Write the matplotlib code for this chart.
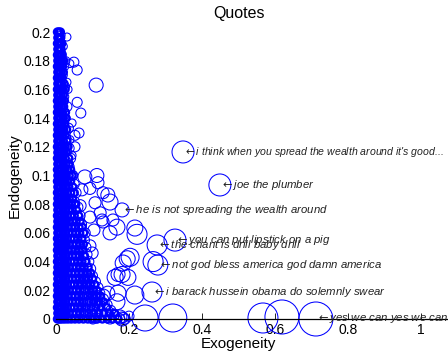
import matplotlib
matplotlib.use("Agg")
import matplotlib.pyplot as plt

plt.rcParams['font.family'] = ['Liberation Sans', 'DejaVu Sans']
plt.rcParams['mathtext.fontset'] = 'dejavusans'

# ---- data -------------------------------------------------------------
# dense cloud of quotes close to x = 0 (rows of y with their x values)
core_rows_y = [0.200, 0.196, 0.192, 0.188, 0.184, 0.180, 0.176, 0.172, 0.168, 0.164,
               0.160, 0.156, 0.152, 0.148, 0.144, 0.140, 0.136, 0.132, 0.128, 0.124,
               0.120, 0.116, 0.112, 0.108, 0.104, 0.100, 0.096, 0.092, 0.088, 0.084,
               0.080, 0.076, 0.072, 0.068, 0.064, 0.060, 0.056, 0.052, 0.048, 0.044,
               0.040, 0.036, 0.032, 0.028, 0.024, 0.020, 0.016, 0.012, 0.008, 0.004,
               0.000]
core_rows_x = [
    [0.004, 0.008, 0.012],
    [0.005, 0.009, 0.013],
    [0.004, 0.008, 0.012, 0.016],
    [0.005, 0.009, 0.014],
    [0.004, 0.008, 0.012, 0.017],
    [0.005, 0.009, 0.015, 0.021],
    [0.004, 0.008, 0.012, 0.018],
    [0.005, 0.009, 0.014, 0.020],
    [0.004, 0.008, 0.012, 0.017],
    [0.005, 0.009, 0.015, 0.022],
    [0.004, 0.008, 0.012, 0.018, 0.025],
    [0.005, 0.009, 0.014, 0.020],
    [0.004, 0.008, 0.012, 0.017, 0.023],
    [0.005, 0.009, 0.015, 0.021],
    [0.004, 0.008, 0.012, 0.018, 0.026],
    [0.005, 0.009, 0.014, 0.020, 0.027],
    [0.004, 0.008, 0.012, 0.017, 0.024],
    [0.005, 0.009, 0.015, 0.021, 0.029],
    [0.004, 0.008, 0.012, 0.018, 0.025],
    [0.005, 0.009, 0.014, 0.020, 0.030],
    [0.004, 0.008, 0.012, 0.017, 0.024, 0.033],
    [0.005, 0.009, 0.015, 0.021, 0.028],
    [0.004, 0.008, 0.012, 0.018, 0.025, 0.035],
    [0.005, 0.009, 0.014, 0.020, 0.027, 0.036],
    [0.004, 0.008, 0.012, 0.017, 0.024, 0.032, 0.040],
    [0.005, 0.009, 0.015, 0.021, 0.028, 0.036, 0.044],
    [0.004, 0.008, 0.012, 0.018, 0.025, 0.032, 0.040],
    [0.005, 0.009, 0.014, 0.020, 0.027, 0.035, 0.046],
    [0.004, 0.008, 0.012, 0.017, 0.024, 0.031, 0.040, 0.050],
    [0.005, 0.009, 0.015, 0.021, 0.028, 0.036, 0.045],
    [0.004, 0.008, 0.012, 0.018, 0.025, 0.033, 0.042, 0.054],
    [0.005, 0.009, 0.014, 0.020, 0.027, 0.035, 0.044, 0.056],
    [0.004, 0.008, 0.012, 0.017, 0.024, 0.031, 0.040, 0.050, 0.062],
    [0.005, 0.009, 0.015, 0.021, 0.028, 0.036, 0.045, 0.055, 0.066],
    [0.004, 0.008, 0.012, 0.018, 0.025, 0.033, 0.042, 0.052, 0.063, 0.072],
    [0.005, 0.009, 0.014, 0.020, 0.027, 0.035, 0.044, 0.054, 0.065, 0.076],
    [0.004, 0.008, 0.012, 0.017, 0.024, 0.031, 0.040, 0.049, 0.060, 0.071],
    [0.005, 0.009, 0.015, 0.021, 0.028, 0.036, 0.045, 0.055, 0.066, 0.075],
    [0.004, 0.008, 0.012, 0.018, 0.025, 0.033, 0.042, 0.052, 0.063, 0.074],
    [0.005, 0.009, 0.014, 0.020, 0.027, 0.035, 0.044, 0.054, 0.065, 0.078],
    [0.004, 0.008, 0.012, 0.017, 0.024, 0.031, 0.040, 0.049, 0.060, 0.071, 0.082],
    [0.005, 0.009, 0.015, 0.021, 0.028, 0.036, 0.045, 0.055, 0.066, 0.077, 0.088],
    [0.004, 0.008, 0.012, 0.018, 0.025, 0.033, 0.042, 0.052, 0.063, 0.074, 0.086, 0.095],
    [0.005, 0.009, 0.014, 0.020, 0.027, 0.035, 0.044, 0.054, 0.065, 0.077, 0.089, 0.100],
    [0.004, 0.008, 0.012, 0.017, 0.024, 0.031, 0.040, 0.049, 0.060, 0.071, 0.083, 0.095, 0.106],
    [0.005, 0.009, 0.015, 0.021, 0.028, 0.036, 0.045, 0.055, 0.066, 0.078, 0.090, 0.102, 0.112],
    [0.004, 0.008, 0.012, 0.018, 0.025, 0.033, 0.042, 0.052, 0.063, 0.075, 0.087, 0.099, 0.111, 0.122],
    [0.005, 0.009, 0.014, 0.020, 0.027, 0.035, 0.044, 0.054, 0.065, 0.077, 0.090, 0.103, 0.116, 0.130],
    [0.004, 0.008, 0.012, 0.017, 0.024, 0.031, 0.040, 0.049, 0.060, 0.071, 0.083, 0.096, 0.109, 0.123, 0.138],
    [0.005, 0.009, 0.015, 0.021, 0.028, 0.036, 0.045, 0.055, 0.066, 0.078, 0.090, 0.103, 0.117, 0.131, 0.146, 0.160],
    [0.004, 0.008, 0.012, 0.018, 0.025, 0.033, 0.042, 0.052, 0.063, 0.075, 0.087, 0.100, 0.113, 0.127, 0.141, 0.155, 0.170],
]

# quotes sitting on the edge of the dense cloud
edge_x = [0.014, 0.020, 0.016, 0.024, 0.020, 0.026, 0.024, 0.030, 0.028, 0.034,
          0.030, 0.036, 0.040, 0.036, 0.046, 0.050, 0.055, 0.050, 0.060, 0.066,
          0.070, 0.080, 0.078, 0.082, 0.085, 0.090, 0.095, 0.100, 0.108, 0.115,
          0.120, 0.130, 0.140, 0.150, 0.160, 0.175, 0.190, 0.200, 0.185,
          0.060, 0.065, 0.075, 0.085, 0.100, 0.120, 0.045, 0.035, 0.028,
          0.010, 0.012, 0.015, 0.018, 0.022, 0.026, 0.040, 0.055, 0.070, 0.090]
edge_y = [0.198, 0.190, 0.185, 0.176, 0.170, 0.162, 0.155, 0.148, 0.140, 0.133,
          0.126, 0.119, 0.112, 0.106, 0.100, 0.094, 0.088, 0.082, 0.078, 0.072,
          0.066, 0.060, 0.055, 0.050, 0.045, 0.040, 0.035, 0.030, 0.026, 0.022,
          0.018, 0.014, 0.010, 0.006, 0.003, 0.000, 0.000, 0.002, 0.001,
          0.060, 0.050, 0.040, 0.030, 0.020, 0.010, 0.080, 0.100, 0.120,
          0.180, 0.160, 0.140, 0.120, 0.100, 0.080, 0.065, 0.045, 0.025, 0.012]
edge_r = [4, 4, 4, 4, 4, 4, 4, 5, 4, 5,
          4, 5, 5, 5, 5, 5, 5, 5, 5, 5,
          5, 5, 5, 5, 5, 5, 5, 5, 5, 5,
          5, 5, 5, 5, 5, 5, 5, 5, 5,
          5, 5, 5, 5, 5, 5, 5, 4, 4,
          4, 4, 4, 4, 4, 4, 5, 5, 5, 5]

# scattered quotes around the dense cloud
fringe_x = [0.030, 0.049, 0.038, 0.058, 0.027, 0.110, 0.030, 0.033, 0.058, 0.068,
            0.044, 0.063, 0.052, 0.052, 0.038, 0.044, 0.033,
            0.079, 0.112, 0.115, 0.093, 0.071, 0.044, 0.129, 0.142, 0.148, 0.107,
            0.066, 0.093, 0.129, 0.156, 0.121, 0.216,
            0.167, 0.222, 0.203, 0.184, 0.195, 0.266, 0.162, 0.181, 0.197, 0.216,
            0.170, 0.167, 0.181, 0.244, 0.320, 0.567, 0.619,
            0.148, 0.175, 0.110, 0.101, 0.137, 0.115, 0.142, 0.129, 0.104, 0.126,
            0.148, 0.170, 0.093, 0.099]
fringe_y = [0.1965, 0.179, 0.178, 0.1735, 0.180, 0.163, 0.165, 0.160, 0.151, 0.1435,
            0.1366, 0.1296, 0.128, 0.120, 0.125, 0.114, 0.107,
            0.099, 0.100, 0.095, 0.091, 0.090, 0.100, 0.088, 0.0864, 0.0815, 0.081,
            0.079, 0.071, 0.0676, 0.069, 0.074, 0.0634,
            0.064, 0.059, 0.043, 0.039, 0.042, 0.040, 0.029, 0.031, 0.029, 0.0167,
            0.018, 0.012, 0.000, 0.0007, 0.0007, 0.0007, 0.0014,
            0.0007, 0.0014, 0.0007, 0.000, 0.003, 0.013, 0.018, 0.016, 0.062, 0.069,
            0.060, 0.031, 0.051, 0.046]
fringe_r = [4, 5, 4, 5, 4, 7, 4, 4, 5, 5,
            4, 5, 5, 5, 4, 4, 4,
            7, 7, 6, 6, 6, 5, 6, 7, 8, 6,
            6, 6, 6, 6, 6, 8,
            8, 10, 9, 8, 8, 10, 8, 8, 8, 9,
            8, 8, 7, 13, 14, 15, 17,
            6, 7, 5, 5, 6, 7, 7, 7, 6, 6,
            7, 7, 6, 6]

# labelled quotes
quote_x = [0.348, 0.449, 0.181, 0.326, 0.277, 0.279, 0.263, 0.712]
quote_y = [0.1164, 0.0934, 0.076, 0.055, 0.0516, 0.0376, 0.0188, 0.000]
quote_r = [11, 11, 7, 11, 10, 10, 10, 17]
quote_text = ["i think when you spread the wealth around it's good...",
              "joe the plumber",
              "he is not spreading the wealth around",
              "you can put lipstick on a pig",
              "the chant is drill baby drill",
              "not god bless america god damn america",
              "i barack hussein obama do solemnly swear",
              "yes we can yes we can"]

x_ticks = [0, 0.2, 0.4, 0.6, 0.8, 1]
x_tick_labels = ["0", "0.2", "0.4", "0.6", "0.8", "1"]
y_ticks = [0, 0.02, 0.04, 0.06, 0.08, 0.1, 0.12, 0.14, 0.16, 0.18, 0.2]
y_tick_labels = ["0", "0.02", "0.04", "0.06", "0.08", "0.1", "0.12", "0.14", "0.16", "0.18", "0.2"]

# ---- plot -------------------------------------------------------------
DPI = 100
fig = plt.figure(figsize=(4.48, 3.54), dpi=DPI)
ax = fig.add_axes([56 / 448, 35 / 354, 365 / 448, 287 / 354])


def px_radius_to_s(r):
    d_pt = 2 * r * 72.0 / DPI
    return d_pt ** 2


core_x, core_y = [], []
for yv, xs in zip(core_rows_y, core_rows_x):
    for xv in xs:
        core_x.append(xv)
        core_y.append(yv)

blue = (0, 0, 1)
ax.scatter(core_x, core_y, s=px_radius_to_s(3.5), facecolors='none',
           edgecolors=blue, linewidths=1.7, clip_on=False, zorder=2)
ax.scatter(edge_x, edge_y, s=[px_radius_to_s(r) for r in edge_r],
           facecolors='none', edgecolors=blue, linewidths=0.75, clip_on=False, zorder=2)
ax.scatter(fringe_x, fringe_y, s=[px_radius_to_s(r) for r in fringe_r],
           facecolors='none', edgecolors=blue, linewidths=0.75, clip_on=False, zorder=2)
ax.scatter(quote_x, quote_y, s=[px_radius_to_s(r) for r in quote_r],
           facecolors='none', edgecolors=blue, linewidths=0.75, clip_on=False, zorder=2)

for i, (xv, yv, t) in enumerate(zip(quote_x, quote_y, quote_text)):
    fs = 7.6 if i == 0 else 8.2
    ax.text(xv, yv, r"$\leftarrow$" + t, fontsize=fs, style='italic', color='#222222',
            ha='left', va='center', clip_on=False, zorder=4)

ax.set_xlim(0, 1)
ax.set_ylim(0, 0.2)
ax.set_xticks(x_ticks)
ax.set_xticklabels(x_tick_labels)
ax.set_yticks(y_ticks)
ax.set_yticklabels(y_tick_labels)
ax.tick_params(axis='x', direction='in', length=4, width=0.6, labelsize=10, pad=3)
ax.tick_params(axis='y', direction='in', length=0, labelsize=10, pad=4)

for side in ['top', 'right', 'left']:
    ax.spines[side].set_visible(False)
ax.spines['bottom'].set_bounds(0, 1.07)
ax.spines['bottom'].set_linewidth(0.9)
ax.spines['bottom'].set_zorder(3)

ax.set_xlabel("Exogeneity", fontsize=11, labelpad=0)
ax.set_ylabel("Endogeneity", fontsize=11, labelpad=1)
ax.set_title("Quotes", fontsize=11.5, pad=10)
ax.patch.set_visible(False)

fig.savefig("out.png", dpi=DPI)
